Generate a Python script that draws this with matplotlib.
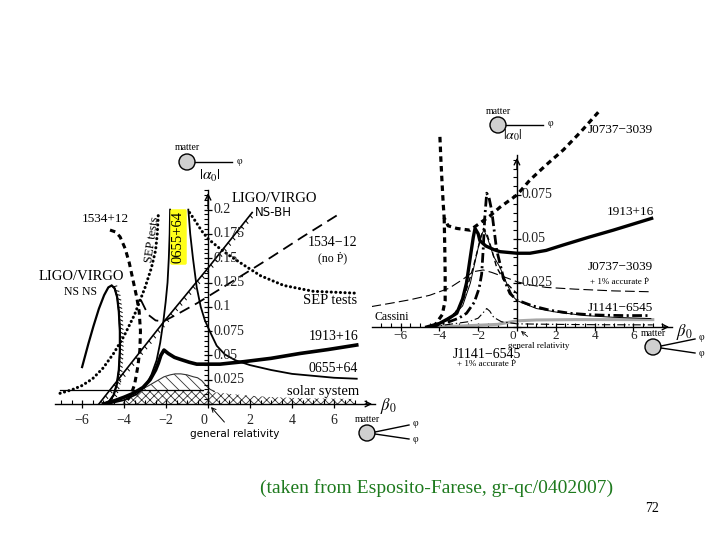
import matplotlib
matplotlib.use("Agg")
import matplotlib.pyplot as plt
from matplotlib import patheffects
from matplotlib.patches import Circle
from matplotlib.ticker import MultipleLocator

plt.rcParams['font.family'] = ['Liberation Serif', 'DejaVu Serif']
plt.rcParams['mathtext.fontset'] = 'stix'
plt.rcParams['lines.scale_dashes'] = False
plt.rcParams['hatch.linewidth'] = 0.6

# ---------------- left panel data (beta0, |alpha0|) ----------------
ns_ns_beta = [-6.0, -5.85, -5.7, -5.46, -5.2, -4.95, -4.75, -4.59, -4.45, -4.33, -4.25, -4.2, -4.2, -4.25, -4.35, -4.5, -4.7, -4.95]
ns_ns_alpha = [0.038, 0.050, 0.062, 0.080, 0.098, 0.112, 0.120, 0.122, 0.119, 0.110, 0.095, 0.075, 0.055, 0.035, 0.020, 0.009, 0.003, 0.0]

ns_bh_beta = [-5.2, -2.13, 0.0, 2.1]
ns_bh_alpha = [0.0, 0.084, 0.14, 0.197]

p0655_left_beta = [-4.8, -4.0, -3.4, -3.0, -2.7, -2.45, -2.28, -2.13, -2.02, -1.93, -1.87, -1.83, -1.81]
p0655_left_alpha = [0.0, 0.004, 0.010, 0.018, 0.030, 0.045, 0.063, 0.085, 0.105, 0.125, 0.150, 0.175, 0.200]
p0655_right_beta = [-0.94, -0.85, -0.72, -0.54, -0.35, -0.15, 0.1, 0.41, 0.8, 1.3, 2.0, 3.0, 4.0, 5.0, 6.0, 7.08]
p0655_right_alpha = [0.200, 0.175, 0.150, 0.120, 0.100, 0.086, 0.074, 0.060, 0.051, 0.045, 0.040, 0.035, 0.031, 0.029, 0.027, 0.026]

sep_left_beta = [-7.05, -6.5, -6.0, -5.5, -5.0, -4.5, -4.0, -3.5, -3.0, -2.7, -2.5, -2.42, -2.37]
sep_left_alpha = [0.011, 0.0145, 0.019, 0.026, 0.037, 0.052, 0.070, 0.092, 0.120, 0.140, 0.158, 0.175, 0.195]
sep_right_beta = [-0.88, -0.6, -0.3, 0.0, 0.5, 1.0, 1.7, 2.5, 3.6, 5.0, 7.08]
sep_right_alpha = [0.197, 0.188, 0.178, 0.170, 0.161, 0.153, 0.143, 0.132, 0.122, 0.116, 0.114]

p1534_beta = [-4.67, -4.4, -4.19, -3.95, -3.75, -3.55, -3.4, -3.28, -3.22, -3.25, -3.35, -3.5, -3.7, -4.0]
p1534_alpha = [0.179, 0.177, 0.172, 0.160, 0.145, 0.125, 0.110, 0.095, 0.075, 0.055, 0.038, 0.020, 0.008, 0.0]
p1534_nop_beta = [-3.2, -2.86, -2.5, -2.13, -1.5, -0.5, 1.0, 3.0, 4.5, 6.13]
p1534_nop_alpha = [0.107, 0.092, 0.086, 0.085, 0.092, 0.104, 0.124, 0.151, 0.172, 0.194]

p1913_beta = [-4.98, -4.5, -4.0, -3.56, -3.1, -2.76, -2.5, -2.37, -2.25, -2.1, -1.9, -1.6, -1.33, -0.9, -0.54, 0.0, 0.57, 1.0, 1.68, 3.0, 4.38, 5.7, 7.08]
p1913_alpha = [0.0, 0.003, 0.007, 0.011, 0.017, 0.025, 0.035, 0.042, 0.050, 0.0555, 0.052, 0.048, 0.046, 0.043, 0.041, 0.041, 0.041, 0.042, 0.0435, 0.047, 0.052, 0.056, 0.0607]

solar_beta = [-4.1, -3.8, -3.5, -3.0, -2.0, -1.0, 0.0, 1.0, 2.0, 3.0, 4.0, 5.0, 6.0, 7.0]
solar_alpha = [0.0, 0.007, 0.0125, 0.0135, 0.0135, 0.0135, 0.013, 0.0105, 0.0085, 0.0072, 0.0063, 0.0058, 0.0055, 0.0052]
hump_beta = [-3.3, -2.9, -2.5, -2.1, -1.8, -1.57, -1.3, -1.0, -0.7, -0.5, -0.3, -0.1, 0.1, 0.3]
hump_alpha = [0.0135, 0.018, 0.023, 0.028, 0.030, 0.031, 0.031, 0.030, 0.028, 0.027, 0.024, 0.019, 0.015, 0.013]
flat_beta = [-7.05, -0.24]
flat_alpha = [0.0144, 0.0144]

left_xticks = [-6, -4, -2, 0, 2, 4, 6]
left_xlabels = ['\u22126', '\u22124', '\u22122', '0', '2', '4', '6']
left_yticks = [0.025, 0.05, 0.075, 0.1, 0.125, 0.15, 0.175, 0.2]
left_ylabels = ['0.025', '0.05', '0.075', '0.1', '0.125', '0.15', '0.175', '0.2']

# ---------------- right panel data ----------------
j0737_beta = [-3.97, -3.92, -3.86, -3.8, -3.75, -3.55, -3.1, -2.42, -1.91, -1.4, -0.88, 0.0, 0.67, 1.5, 2.39, 3.3, 4.19]
j0737_alpha = [0.108, 0.095, 0.082, 0.070, 0.062, 0.0575, 0.056, 0.055, 0.059, 0.063, 0.068, 0.075, 0.0835, 0.092, 0.1006, 0.111, 0.122]
j0737_low_beta = [-3.75, -3.72, -3.70, -3.70, -3.85, -4.3]
j0737_low_alpha = [0.062, 0.045, 0.030, 0.015, 0.007, 0.0]

r1913_beta = [-4.65, -4.0, -3.5, -3.1, -2.8, -2.6, -2.4, -2.25, -2.16, -2.0, -1.91, -1.6, -1.2, -0.88, 0.0, 0.67, 1.5, 2.39, 3.7, 4.96, 6.94]
r1913_alpha = [0.0, 0.002, 0.005, 0.0078, 0.016, 0.025, 0.040, 0.051, 0.056, 0.053, 0.049, 0.046, 0.044, 0.0428, 0.0419, 0.0419, 0.0435, 0.0466, 0.051, 0.055, 0.0617]

j1141_beta = [-4.5, -4.1, -3.5, -3.0, -2.6, -2.2, -1.95, -1.82, -1.74, -1.66, -1.56, -1.45, -1.3, -1.05, -0.7, -0.36, 0.0, 0.8, 1.7, 2.73, 3.7, 4.45, 5.5, 6.86]
j1141_alpha = [0.0, 0.001, 0.003, 0.005, 0.0078, 0.014, 0.022, 0.030, 0.044, 0.062, 0.076, 0.074, 0.066, 0.044, 0.028, 0.019, 0.0153, 0.012, 0.0095, 0.0078, 0.007, 0.0067, 0.0065, 0.0065]

cassini_beta = [-7.5, -6.5, -5.5, -4.5, -3.5, -2.8, -2.25, -1.74, -1.3, -0.8, -0.3, 0.0, 0.67, 1.5, 3.0, 5.0, 6.94]
cassini_alpha = [0.0116, 0.0135, 0.0155, 0.018, 0.022, 0.027, 0.0314, 0.0324, 0.031, 0.029, 0.027, 0.0257, 0.0239, 0.0225, 0.0215, 0.0205, 0.020]

sharp_beta = [-4.5, -3.8, -3.2, -2.77, -2.5, -2.25, -1.91, -1.72, -1.55, -1.3, -1.05, -0.7, -0.36, 0.0]
sharp_alpha = [0.0, 0.003, 0.008, 0.0153, 0.025, 0.034, 0.049, 0.056, 0.053, 0.044, 0.034, 0.027, 0.0229, 0.019]

thin_beta = [-4.5, -3.5, -2.8, -2.4, -2.1, -1.85, -1.7, -1.5, -1.2, -0.88, -0.5, -0.19, 0.0, 1.0, 2.0, 3.5, 5.0, 6.9]
thin_alpha = [0.0, 0.004, 0.012, 0.025, 0.040, 0.052, 0.055, 0.050, 0.040, 0.034, 0.024, 0.0172, 0.015, 0.0105, 0.0085, 0.0065, 0.0055, 0.0048]

grey_beta = [-4.5, -3.0, -2.0, -1.0, 0.0, 1.0, 3.0, 5.0, 7.0]
grey_alpha = [0.0, 0.0005, 0.001, 0.0015, 0.0035, 0.004, 0.0042, 0.0042, 0.0042]

low_beta = [-4.5, -3.5, -2.5, -2.0, -1.75, -1.56, -1.4, -1.2, -0.8, 0.0, 2.0, 4.0, 7.0]
low_alpha = [0.0, 0.0015, 0.003, 0.005, 0.008, 0.0105, 0.009, 0.0055, 0.003, 0.0018, 0.0015, 0.0013, 0.0012]

right_xticks = [-6, -4, -2, 0, 2, 4, 6]
right_xlabels = ['\u22126', '\u22124', '\u22122', '0', '2', '4', '6']
right_yticks = [0.025, 0.05, 0.075]
right_ylabels = ['0.025', '0.05', '0.075']

fig = plt.figure(figsize=(7.2, 5.4), dpi=100)
fig.patch.set_facecolor('white')


def setup_axes(ax, xlim, ylim, ymajor, yminor):
    ax.set_xlim(*xlim)
    ax.set_ylim(*ylim)
    ax.patch.set_visible(False)
    for s in ['top', 'right']:
        ax.spines[s].set_visible(False)
    ax.spines['left'].set_position(('data', 0))
    ax.spines['bottom'].set_position(('data', 0))
    ax.spines['left'].set_linewidth(1.0)
    ax.spines['bottom'].set_linewidth(1.0)
    ax.xaxis.set_major_locator(MultipleLocator(2))
    ax.xaxis.set_minor_locator(MultipleLocator(0.5))
    ax.yaxis.set_major_locator(MultipleLocator(ymajor))
    ax.yaxis.set_minor_locator(MultipleLocator(yminor))
    ax.tick_params(which='major', direction='inout', length=6, width=0.9,
                   labelbottom=False, labelleft=False)
    ax.tick_params(which='minor', length=3, width=0.8)
    ax.tick_params(axis='x', which='minor', direction='in')
    ax.tick_params(axis='y', which='minor', direction='out')
    ax.annotate('', xy=(xlim[1], 0), xytext=(xlim[1] - 0.6, 0),
                arrowprops=dict(arrowstyle='->', lw=1.0, color='black'))
    ax.annotate('', xy=(0, ylim[1]), xytext=(0, ylim[1] * 0.9),
                arrowprops=dict(arrowstyle='->', lw=1.0, color='black'))


tick_col = '#222222'

# ---------------- left panel ----------------
axl = fig.add_axes([55 / 720, 136 / 540, 320 / 720, 213.8 / 540])
setup_axes(axl, (-7.29, 7.95), (0, 0.22), 0.025, 0.005)

axl.fill_between(hump_beta, 0, hump_alpha, facecolor='white', edgecolor='#333333',
                 hatch='\\\\\\', lw=0.8, zorder=1)
axl.fill_between(solar_beta, 0, solar_alpha, facecolor='white', edgecolor='#333333',
                 hatch='xxxx', lw=0, zorder=1.2)
axl.plot(flat_beta, flat_alpha, color='black', lw=0.9, zorder=2)

axl.plot(ns_ns_beta, ns_ns_alpha, color='black', lw=1.6, zorder=3)
axl.plot(ns_ns_beta[7:], ns_ns_alpha[7:], color='black', lw=1.0, zorder=3,
         path_effects=[patheffects.withTickedStroke(angle=60, spacing=3, length=0.9, linewidth=0.7)])
axl.plot(ns_bh_beta, ns_bh_alpha, color='black', lw=1.2, zorder=3,
         path_effects=[patheffects.withTickedStroke(angle=-100, spacing=5, length=0.5, linewidth=0.7)])
axl.plot(p0655_left_beta, p0655_left_alpha, color='black', lw=1.3, zorder=3)
axl.plot(p0655_right_beta, p0655_right_alpha, color='black', lw=1.3, zorder=3)
axl.plot(sep_left_beta, sep_left_alpha, color='black', lw=2.2, dashes=(0.1, 3.2),
         dash_capstyle='round', zorder=3)
axl.plot(sep_right_beta, sep_right_alpha, color='black', lw=2.2, dashes=(0.1, 3.2),
         dash_capstyle='round', zorder=3)
axl.plot(p1534_beta, p1534_alpha, color='black', lw=2.2, dashes=(4, 3), zorder=3)
axl.plot(p1534_nop_beta, p1534_nop_alpha, color='black', lw=1.3, dashes=(8, 4.5), zorder=3)
axl.plot(p1913_beta, p1913_alpha, color='black', lw=2.6, zorder=3)

for b, lab in zip(left_xticks, left_xlabels):
    axl.annotate(lab, (b, 0), xytext=(-3 if b == 0 else 0, -7), textcoords='offset points',
                 ha='center', va='top', fontsize=10, color=tick_col)
for v, lab in zip(left_yticks, left_ylabels):
    axl.annotate(lab, (0, v), xytext=(4, 0), textcoords='offset points',
                 ha='left', va='center', fontsize=10, color=tick_col)

# ---------------- right panel ----------------
axr = fig.add_axes([372 / 720, 213 / 540, 300 / 720, 172 / 540])
setup_axes(axr, (-7.47, 7.99), (0, 0.0977), 0.025, 0.005)

axr.plot(grey_beta, grey_alpha, color='#a8a8a8', lw=2.2, zorder=2)
axr.plot(low_beta, low_alpha, color='black', lw=0.8, dashes=(6, 2, 1, 2), zorder=3)
axr.plot(cassini_beta, cassini_alpha, color='black', lw=0.8, dashes=(7, 3), zorder=3)
axr.plot(thin_beta, thin_alpha, color='black', lw=0.7, zorder=3)
axr.plot(sharp_beta, sharp_alpha, color='black', lw=1.0, dashes=(4, 2.5), zorder=3)
axr.plot(j1141_beta, j1141_alpha, color='black', lw=2.0, dashes=(7, 2.5, 1.5, 2.5), zorder=3)
axr.plot(r1913_beta, r1913_alpha, color='black', lw=2.4, zorder=3)
axr.plot(j0737_beta, j0737_alpha, color='black', lw=2.3, dashes=(4, 3), zorder=3, clip_on=False)
axr.plot(j0737_low_beta, j0737_low_alpha, color='black', lw=2.3, dashes=(4, 3), zorder=3)

for b, lab in zip(right_xticks, right_xlabels):
    axr.annotate(lab, (b, 0), xytext=(-3 if b == 0 else 0, -2.5), textcoords='offset points',
                 ha='center', va='top', fontsize=9.5, color=tick_col)
for v, lab in zip(right_yticks, right_ylabels):
    axr.annotate(lab, (0, v), xytext=(3, 0), textcoords='offset points',
                 ha='left', va='center', fontsize=10, color=tick_col)

# ---------------- overlay in pixel coordinates ----------------
ov = fig.add_axes([0, 0, 1, 1])
ov.set_xlim(0, 720)
ov.set_ylim(540, 0)
ov.axis('off')
ov.patch.set_visible(False)


def matter(x, y, two=False):
    ov.add_patch(Circle((x, y), 8, facecolor='#cfcfcf', edgecolor='black', lw=1.0))
    ov.text(x, y - 14, 'matter', ha='center', va='center', fontsize=7)
    if two:
        ov.plot([x + 8, x + 42], [y - 1, y - 8], color='black', lw=1.0)
        ov.plot([x + 8, x + 42], [y + 1, y + 6], color='black', lw=1.0)
        ov.text(x + 46, y - 9, '\u03c6', ha='left', va='center', fontsize=7)
        ov.text(x + 46, y + 6, '\u03c6', ha='left', va='center', fontsize=7)
    else:
        ov.plot([x + 8, x + 45], [y, y], color='black', lw=1.0)
        ov.text(x + 50, y - 1, '\u03c6', ha='left', va='center', fontsize=7)


# left panel decorations
matter(187, 162)
matter(367, 433, two=True)
ov.text(210, 176, r'$|\alpha_0|$', ha='center', va='center', fontsize=11)
ov.text(388, 406, r'$\beta_0$', ha='center', va='center', fontsize=12)
ov.text(81, 276, 'LIGO/VIRGO', ha='center', va='center', fontsize=10.5)
ov.text(80, 292, 'NS NS', ha='center', va='center', fontsize=8.5)
ov.text(105, 219, '1534+12', ha='center', va='center', fontsize=9.5)
ov.text(152, 240, 'SEP tests', ha='center', va='center', fontsize=9, rotation=82)
ov.text(178.5, 237, '0655+64', ha='center', va='center', fontsize=10.5, rotation=90,
        bbox=dict(boxstyle='round,pad=0.12', fc='#ffff1a', ec='none'))
ov.text(274, 198, 'LIGO/VIRGO', ha='center', va='center', fontsize=10.5)
ov.text(273, 213, 'NS-BH', ha='center', va='center', fontsize=8.5, family=['DejaVu Sans'])
ov.text(333, 242, '1534\u221212', ha='center', va='center', fontsize=10)
ov.text(333, 258, '(no \u1e56)', ha='center', va='center', fontsize=8.5)
ov.text(330, 301, 'SEP tests', ha='center', va='center', fontsize=10.5)
ov.text(334, 337, '1913+16', ha='center', va='center', fontsize=10)
ov.text(333, 368, '0655+64', ha='center', va='center', fontsize=10)
ov.text(323, 391, 'solar system', ha='center', va='center', fontsize=10.5)
ov.annotate('general relativity', xy=(211, 407), xytext=(235, 434), ha='center', va='center',
            fontsize=7.5, family=['DejaVu Sans'],
            arrowprops=dict(arrowstyle='->', lw=0.7, color='black', shrinkA=4, shrinkB=0))

# right panel decorations
matter(498, 125)
matter(653, 347, two=True)
ov.text(513, 135, r'$|\alpha_0|$', ha='center', va='center', fontsize=10)
ov.text(684, 332, r'$\beta_0$', ha='center', va='center', fontsize=12)
ov.text(620, 130, 'J0737\u22123039', ha='center', va='center', fontsize=9.5)
ov.text(630, 212, '1913+16', ha='center', va='center', fontsize=9.5)
ov.text(620, 267, 'J0737\u22123039', ha='center', va='center', fontsize=9.5)
ov.text(620, 282, '+ 1% accurate \u1e56', ha='center', va='center', fontsize=6.5)
ov.text(620, 308, 'J1141\u22126545', ha='center', va='center', fontsize=9.5)
ov.text(392, 317, 'Cassini', ha='center', va='center', fontsize=8.5)
ov.text(487, 354, 'J1141\u22126545', ha='center', va='center', fontsize=10)
ov.text(457, 364, '+ 1% accurate \u1e56', ha='left', va='center', fontsize=6.5)
ov.annotate('general relativity', xy=(521, 331), xytext=(539, 346), ha='center', va='center',
            fontsize=6.5,
            arrowprops=dict(arrowstyle='->', lw=0.6, color='black', shrinkA=3, shrinkB=0))

# caption
ov.text(437, 488, '(taken from Esposito-Farese, gr-qc/0402007)', ha='center', va='center',
        fontsize=14, color='#1e7a1e')
ov.text(652, 508, '72', ha='center', va='center', fontsize=10)

fig.savefig('out.png', dpi=100)
